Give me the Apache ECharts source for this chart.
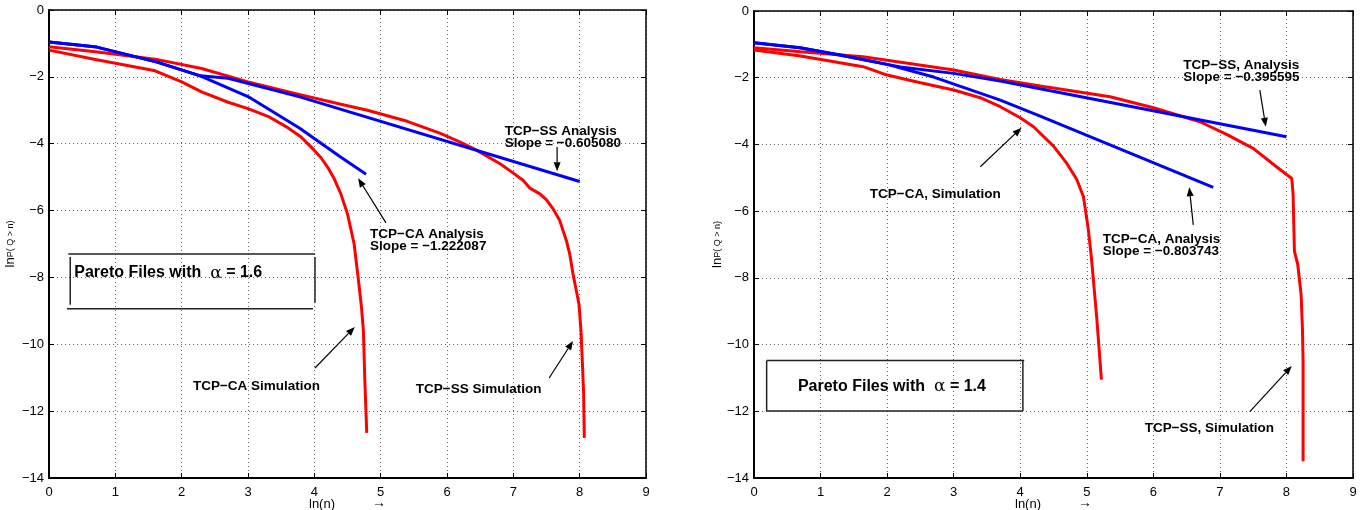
<!DOCTYPE html>
<html>
<head>
<meta charset="utf-8">
<script src="https://cdn.jsdelivr.net/npm/echarts@6/dist/echarts.min.js"></script>
<style>
  html, body { margin: 0; padding: 0; background: #fff; }
  #chart { width: 1362px; height: 510px; }
</style>
</head>
<body>
<div id="chart"></div>
<script>
// axis ranges (both panels share them)
var xMin = 0, xMax = 9, xStep = 1;
var yMin = -14, yMax = 0, yStep = 2;

// left panel: Pareto files, alpha = 1.6  ([ln(n), ln P(Q>n)])
var caSim16 = [[0,-1.2],[0.7,-1.48],[1.6,-1.82],[2.0,-2.15],[2.3,-2.45],[2.7,-2.76],[3.0,-2.95],[3.3,-3.18],[3.6,-3.52],[3.8,-3.8],[4.0,-4.2],[4.1,-4.42],[4.2,-4.7],[4.3,-5.05],[4.4,-5.5],[4.5,-6.1],[4.6,-7.0],[4.66,-8.0],[4.71,-8.87],[4.74,-9.6],[4.76,-11.0],[4.79,-12.65]];
var ssSim16 = [[0,-1.1],[0.7,-1.25],[1.6,-1.47],[2.3,-1.75],[3.0,-2.15],[3.8,-2.54],[4.4,-2.82],[4.8,-3.0],[5.4,-3.33],[5.9,-3.69],[6.2,-3.95],[6.45,-4.2],[6.8,-4.6],[7.0,-4.88],[7.15,-5.1],[7.25,-5.33],[7.4,-5.5],[7.5,-5.68],[7.6,-5.95],[7.7,-6.3],[7.8,-6.9],[7.85,-7.3],[7.9,-7.9],[7.95,-8.4],[7.99,-8.8],[8.02,-9.6],[8.04,-10.5],[8.06,-11.5],[8.07,-12.8]];
var caAnalysis16 = [[0,-0.96],[0.72,-1.11],[1.63,-1.56],[2.28,-1.97],[3.0,-2.59],[3.78,-3.54],[4.39,-4.39],[4.78,-4.91]];
var ssAnalysis16 = [[0,-0.96],[0.72,-1.11],[1.63,-1.56],[2.28,-1.97],[2.7,-2.04],[3.78,-2.6],[8.0,-5.13]];

// right panel: Pareto files, alpha = 1.4
var caSim14 = [[0,-1.17],[0.7,-1.35],[1.64,-1.67],[2.0,-1.92],[2.5,-2.15],[3.0,-2.37],[3.4,-2.6],[3.7,-2.87],[4.0,-3.2],[4.2,-3.47],[4.5,-4.05],[4.7,-4.57],[4.85,-5.05],[4.95,-5.57],[5.02,-6.5],[5.07,-7.4],[5.15,-9.2],[5.22,-11.05]];
var ssSim14 = [[0,-1.1],[0.7,-1.22],[1.64,-1.37],[3.0,-1.77],[3.7,-2.05],[4.3,-2.25],[5.35,-2.57],[6.0,-2.9],[6.7,-3.32],[7.1,-3.7],[7.5,-4.12],[7.85,-4.67],[8.08,-5.02],[8.1,-5.5],[8.12,-7.2],[8.17,-7.6],[8.22,-8.5],[8.24,-9.5],[8.25,-10.5],[8.25,-13.5]];
var caAnalysis14 = [[0,-0.95],[0.69,-1.1],[1.29,-1.32],[2.0,-1.6],[2.7,-1.98],[3.7,-2.67],[4.3,-3.15],[6.9,-5.29]];
var ssAnalysis14 = [[0,-0.95],[0.69,-1.1],[1.29,-1.32],[2.0,-1.6],[2.2,-1.68],[3.0,-1.87],[3.7,-2.1],[8.0,-3.77]];

var font = '"Liberation Sans", Helvetica, Arial, sans-serif';
var minus = function (v) { return v < 0 ? '\u2212' + Math.abs(v) : String(v); };

var chart = echarts.init(document.getElementById('chart'));

// main axes (bottom/left) + plain frame axes (top/right), for each grid
function xAxes(g) {
  return [{
    gridIndex: g, type: 'value', min: xMin, max: xMax, interval: xStep, position: 'bottom',
    axisLine: { onZero: false, lineStyle: { color: '#000', width: 2 } },
    axisTick: { inside: true, length: 5, lineStyle: { color: '#000' } },
    axisLabel: { color: '#000', fontSize: 13, margin: 8, fontFamily: font },
    splitLine: { show: true, lineStyle: { type: [1, 3], color: '#666', width: 1 } },
    name: '{a|ln(n)}{b|\u2192}', nameLocation: 'middle', nameGap: 18, nameMoveOverlap: false,
    nameTextStyle: { rich: { a: { fontSize: 13, fontFamily: font, color: '#000' },
                             b: { fontSize: 14, fontFamily: font, color: '#000', padding: [0, 0, 2, 37] } } }
  }, {
    gridIndex: g, type: 'value', min: xMin, max: xMax, interval: xStep, position: 'top',
    axisLine: { onZero: false, lineStyle: { color: '#000', width: 1.5 } },
    axisTick: { inside: true, length: 5, lineStyle: { color: '#000' } },
    axisLabel: { show: false }, splitLine: { show: false }
  }];
}
function yAxes(g, gap) {
  return [{
    gridIndex: g, type: 'value', min: yMin, max: yMax, interval: yStep, position: 'left',
    axisLine: { onZero: false, lineStyle: { color: '#000', width: 2 } },
    axisTick: { inside: true, length: 5, lineStyle: { color: '#000' } },
    axisLabel: { color: '#000', fontSize: 13, margin: 5, fontFamily: font, formatter: minus },
    splitLine: { show: true, lineStyle: { type: [1, 3], color: '#666', width: 1 } },
    name: '{a|ln}{b|P( Q > n)}', nameLocation: 'middle', nameRotate: 90, nameGap: gap, nameMoveOverlap: false,
    nameTextStyle: { rich: { a: { fontSize: 13, fontFamily: font, color: '#000' },
                             b: { fontSize: 9, fontFamily: font, color: '#000' } } }
  }, {
    gridIndex: g, type: 'value', min: yMin, max: yMax, interval: yStep, position: 'right',
    axisLine: { onZero: false, lineStyle: { color: '#000', width: 1.5 } },
    axisTick: { inside: true, length: 5, lineStyle: { color: '#000' } },
    axisLabel: { show: false }, splitLine: { show: false }
  }];
}

function line(data, color, axis) {
  return {
    type: 'line', data: data, xAxisIndex: axis, yAxisIndex: axis,
    symbol: 'none', smooth: false, silent: true,
    lineStyle: { color: color, width: 3 }
  };
}

chart.setOption({
  animation: false,
  backgroundColor: '#fff',
  grid: [
    { left: 49, top: 10, width: 597, height: 468, outerBoundsMode: 'none', containLabel: false },
    { left: 754, top: 11, width: 599, height: 467, outerBoundsMode: 'none', containLabel: false }
  ],
  xAxis: xAxes(0).concat(xAxes(1)),
  yAxis: yAxes(0, 32).concat(yAxes(1, 30)),
  series: [
    line(caSim16, '#ff0000', 0),
    line(ssSim16, '#ff0000', 0),
    line(caAnalysis16, '#0000ff', 0),
    line(ssAnalysis16, '#0000ff', 0),
    line(caSim14, '#ff0000', 2),
    line(ssSim14, '#ff0000', 2),
    line(caAnalysis14, '#0000ff', 2),
    line(ssAnalysis14, '#0000ff', 2)
  ]
});

// annotations, placed in data coordinates of each panel
var panels = [
  {
    axis: 0,
    notes: [
      { text: 'TCP\u2212SS Analysis\nSlope = \u22120.605080', at: [6.87, -3.44] },
      { text: 'TCP\u2212CA Analysis\nSlope = \u22121.222087', at: [4.84, -6.52] },
      { text: 'TCP\u2212CA Simulation', at: [2.17, -11.07] },
      { text: 'TCP\u2212SS Simulation', at: [5.53, -11.16] }
    ],
    arrows: [
      [[7.66, -4.10], [7.66, -4.82]],
      [[5.08, -6.37], [4.66, -5.03]],
      [[4.01, -10.71], [4.61, -9.48]],
      [[7.54, -11.01], [7.90, -9.90]]
    ],
    box: { label: '1.6', at: [0.38, -7.87],
      lines: [[[0.29, -7.30], [4.01, -7.30]], [[0.27, -8.94], [3.98, -8.94]],
              [[0.32, -7.39], [0.32, -8.82]], [[4.01, -7.39], [4.01, -8.76]]] }
  },
  {
    axis: 2,
    notes: [
      { text: 'TCP\u2212SS, Analysis\nSlope = \u22120.395595', at: [6.45, -1.44] },
      { text: 'TCP\u2212CA, Analysis\nSlope = \u22120.803743', at: [5.24, -6.65] },
      { text: 'TCP\u2212CA, Simulation', at: [1.74, -5.31] },
      { text: 'TCP\u2212SS, Simulation', at: [5.87, -12.32] }
    ],
    arrows: [
      [[7.60, -2.37], [7.69, -3.47]],
      [[6.60, -6.41], [6.54, -5.28]],
      [[3.40, -4.67], [4.02, -3.50]],
      [[7.45, -12.01], [8.08, -10.64]]
    ],
    box: { label: '1.4', at: [0.66, -11.26],
      lines: [[[0.19, -10.48], [4.06, -10.48]], [[0.19, -11.99], [4.04, -11.99]],
              [[0.19, -10.48], [0.19, -11.99]], [[4.04, -10.48], [4.04, -11.99]]] }
  }
];

var graphics = [];
panels.forEach(function (p) {
  var px = function (pt) {
    return chart.convertToPixel({ xAxisIndex: p.axis, yAxisIndex: p.axis }, pt);
  };
  p.notes.forEach(function (n) {
    var a = px(n.at);
    graphics.push({
      type: 'text', x: a[0], y: a[1], z: 10,
      style: { text: n.text, fill: '#000', fontSize: 13.5, fontWeight: 'bold',
               fontFamily: font, lineHeight: 12, align: 'left', verticalAlign: 'top' }
    });
  });
  p.arrows.forEach(function (ar) {
    var t = px(ar[0]), h = px(ar[1]);
    var dx = h[0] - t[0], dy = h[1] - t[1], len = Math.sqrt(dx * dx + dy * dy);
    var ux = dx / len, uy = dy / len, hl = 9, hw = 3.5;
    var bx = h[0] - ux * hl, by = h[1] - uy * hl;
    graphics.push({
      type: 'line', z: 10,
      shape: { x1: t[0], y1: t[1], x2: bx, y2: by },
      style: { stroke: '#000', lineWidth: 1.2 }
    });
    graphics.push({
      type: 'polygon', z: 10,
      shape: { points: [h, [bx - uy * hw, by + ux * hw], [bx + uy * hw, by - ux * hw]] },
      style: { fill: '#000' }
    });
  });
  p.box.lines.forEach(function (l) {
    var a = px(l[0]), b = px(l[1]);
    graphics.push({
      type: 'line', z: 10,
      shape: { x1: a[0], y1: a[1], x2: b[0], y2: b[1] },
      style: { stroke: '#222', lineWidth: 1.5 }
    });
  });
  var c = px(p.box.at);
  graphics.push({
    type: 'text', x: c[0], y: c[1], z: 10,
    style: {
      text: '{b|Pareto Files with  }{g|\u03b1}{b| = ' + p.box.label + '}',
      align: 'left', verticalAlign: 'middle',
      rich: {
        b: { fontSize: 16, fontWeight: 'bold', fontFamily: font, fill: '#000' },
        g: { fontSize: 17, fontFamily: '"DejaVu Serif", serif', fill: '#000' }
      }
    }
  });
});

chart.setOption({ graphic: graphics });
</script>
</body>
</html>
